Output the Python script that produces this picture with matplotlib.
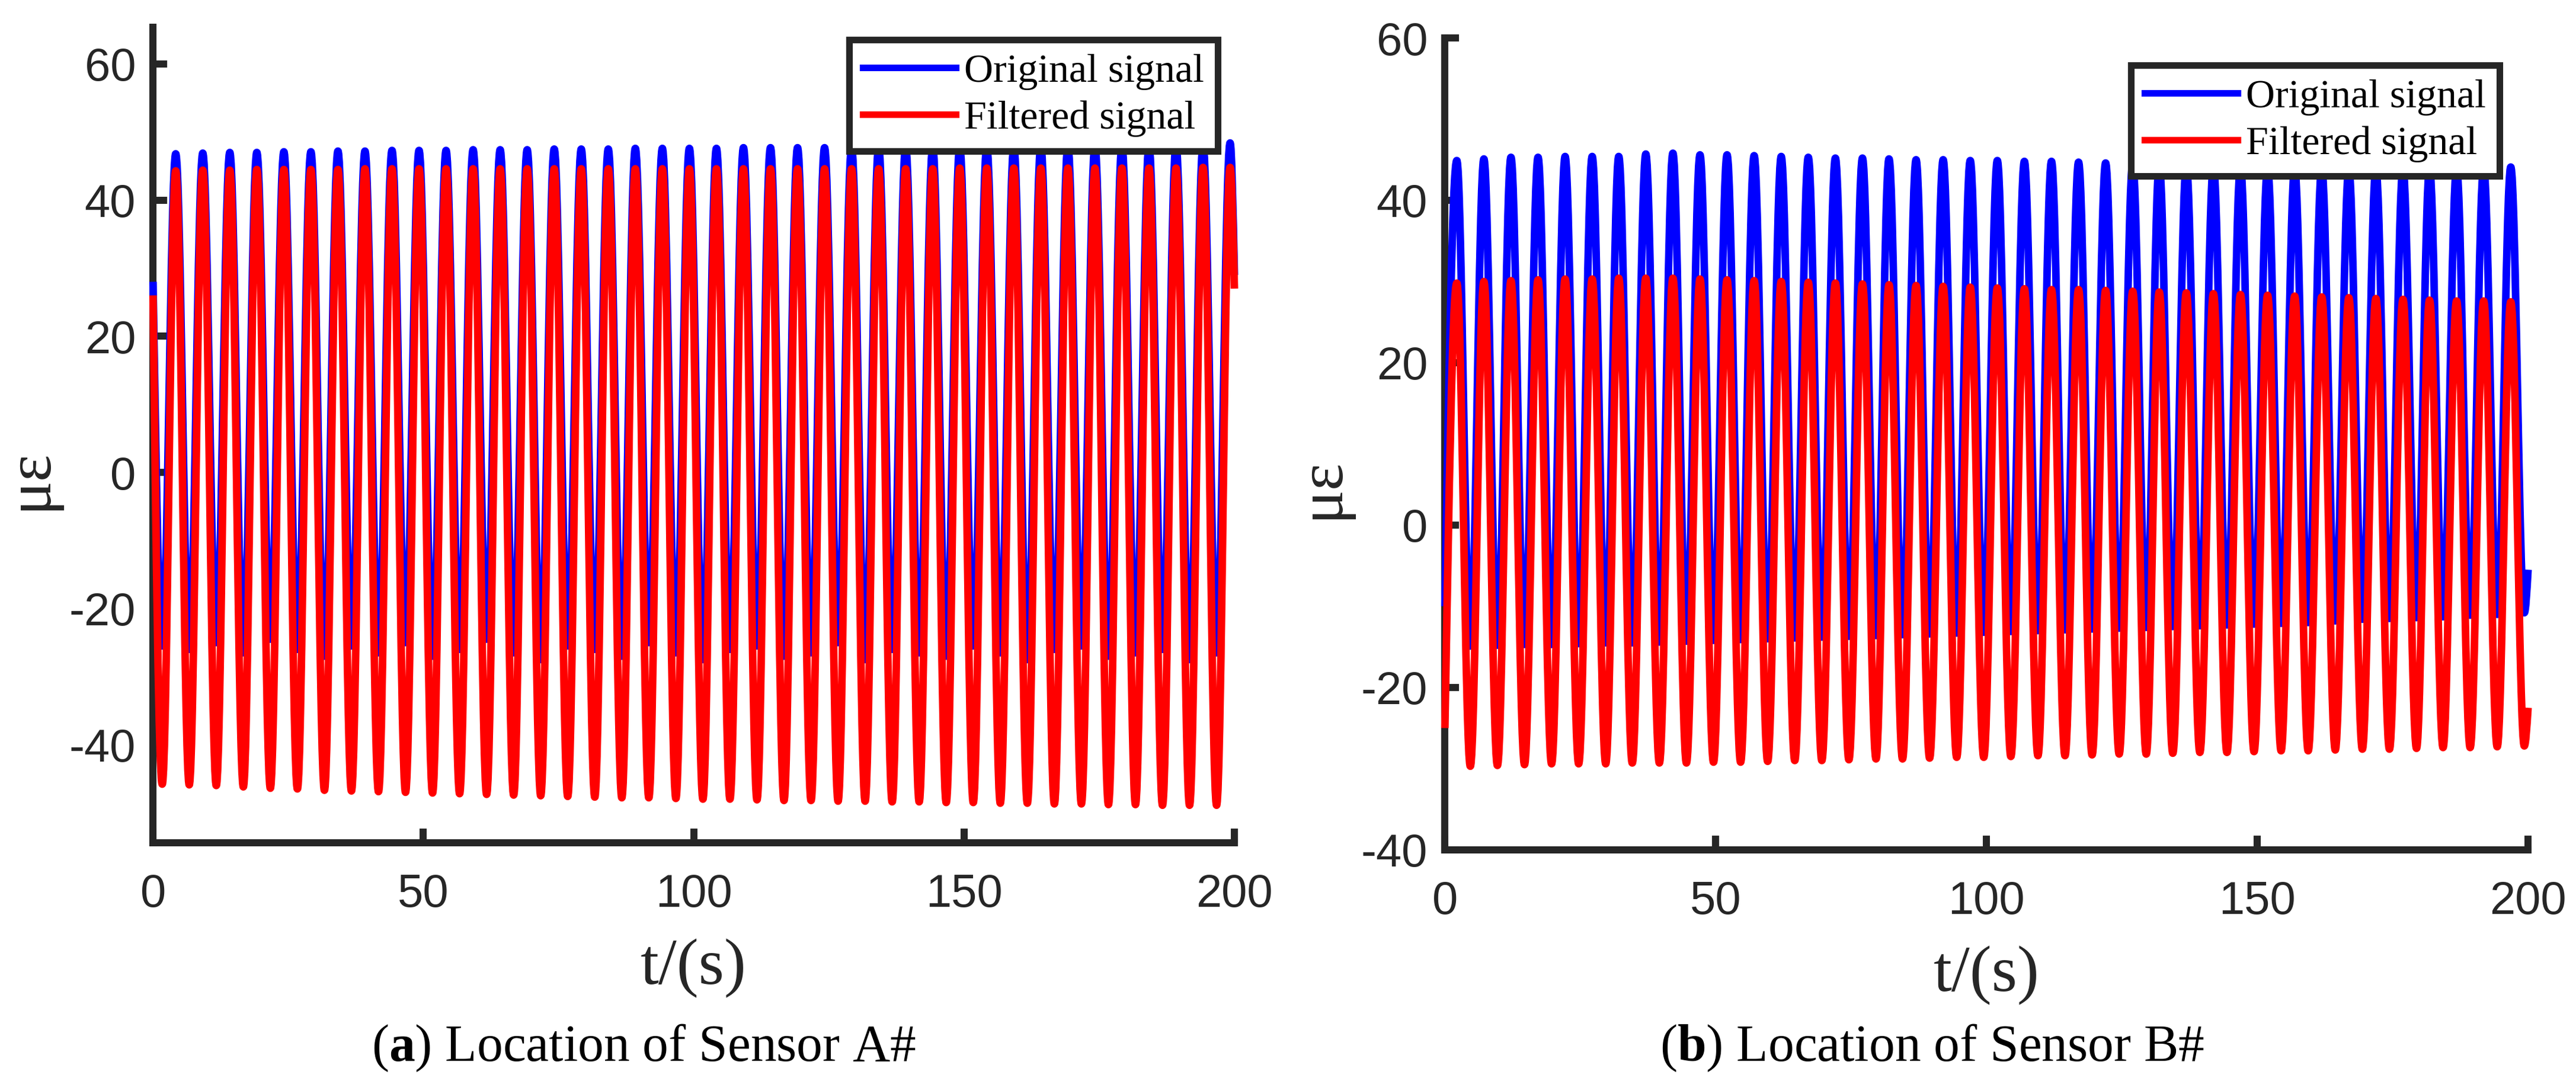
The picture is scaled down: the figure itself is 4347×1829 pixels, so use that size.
import matplotlib
matplotlib.use("Agg")
import matplotlib.pyplot as plt
from matplotlib.path import Path
from matplotlib.patches import PathPatch
from matplotlib.lines import Line2D

plt.rcParams["font.family"] = "Liberation Sans"
plt.rcParams["axes.unicode_minus"] = False
plt.rcParams["mathtext.fontset"] = "custom"
plt.rcParams["mathtext.rm"] = "Liberation Serif"
plt.rcParams["mathtext.bf"] = "Liberation Serif:bold"

# ---- sensor A#: extremes (t in s, strain in micro-strain)
a_trough_t = [1.7, 6.7, 11.7, 16.7, 21.7, 26.7, 31.7, 36.7, 41.7, 46.7,
              51.7, 56.7, 61.7, 66.7, 71.7, 76.7, 81.7, 86.7, 91.7, 96.7,
              101.7, 106.7, 111.7, 116.7, 121.7, 126.7, 131.7, 136.7, 141.7, 146.7,
              151.7, 156.7, 161.7, 166.7, 171.7, 176.7, 181.7, 186.7, 191.7, 196.7]
a_peak_t = [4.2, 9.2, 14.2, 19.2, 24.2, 29.2, 34.2, 39.2, 44.2, 49.2,
            54.2, 59.2, 64.2, 69.2, 74.2, 79.2, 84.2, 89.2, 94.2, 99.2,
            104.2, 109.2, 114.2, 119.2, 124.2, 129.2, 134.2, 139.2, 144.2, 149.2,
            154.2, 159.2, 164.2, 169.2, 174.2, 179.2, 184.2, 189.2, 194.2, 199.2]
a_orig_peaks = [46.8, 46.9, 47.0, 47.0, 47.1, 47.1, 47.2, 47.2, 47.3, 47.3,
                47.3, 47.4, 47.4, 47.4, 47.5, 47.5, 47.5, 47.6, 47.6, 47.6,
                47.6, 47.7, 47.7, 47.7, 47.7, 47.7, 47.8, 47.8, 47.8, 47.8,
                47.8, 47.8, 47.9, 47.9, 47.9, 47.9, 47.9, 48.0, 48.0, 48.4]
a_orig_troughs = [-25.5, -26.0, -25.0, -26.5, -24.5, -26.0, -27.0, -25.5, -26.5, -25.0,
                  -27.0, -26.0, -24.5, -26.5, -27.5, -25.5, -26.0, -27.0, -25.0, -26.5,
                  -27.5, -26.0, -25.5, -27.0, -26.5, -25.0, -27.5, -26.0, -26.5, -27.0,
                  -25.5, -26.5, -27.5, -26.0, -25.5, -27.0, -26.5, -26.0, -27.5, -26.5]
a_filt_peaks = [44.3, 44.4, 44.4, 44.5, 44.5, 44.5, 44.5, 44.6, 44.6, 44.6,
                44.6, 44.6, 44.6, 44.6, 44.6, 44.6, 44.6, 44.6, 44.6, 44.6,
                44.6, 44.6, 44.6, 44.6, 44.6, 44.6, 44.6, 44.6, 44.6, 44.7,
                44.7, 44.7, 44.7, 44.7, 44.7, 44.7, 44.7, 44.7, 44.8, 44.8]
a_filt_troughs = [-45.8, -45.9, -46.0, -46.2, -46.4, -46.5, -46.7, -46.8, -46.9, -47.0,
                  -47.1, -47.2, -47.3, -47.4, -47.5, -47.6, -47.7, -47.8, -47.8, -47.9,
                  -48.0, -48.0, -48.1, -48.2, -48.2, -48.3, -48.3, -48.4, -48.4, -48.5,
                  -48.5, -48.6, -48.6, -48.7, -48.7, -48.8, -48.8, -48.9, -48.9, -48.9]
a_orig_ends = [28.0, 29.0]
a_filt_ends = [26.0, 27.0]

# ---- sensor B#
b_peak_t = [2.2, 7.2, 12.2, 17.2, 22.2, 27.2, 32.1, 37.1, 42.1, 47.1,
            52.1, 57.1, 62.1, 67.1, 72.1, 77.1, 82.0, 87.0, 92.0, 97.0,
            102.0, 107.0, 112.0, 117.0, 122.0, 127.0, 131.9, 136.9, 141.9, 146.9,
            151.9, 156.9, 161.9, 166.9, 171.9, 176.9, 181.8, 186.8, 191.8, 196.8]
b_trough_t = [4.7, 9.7, 14.7, 19.7, 24.7, 29.7, 34.6, 39.6, 44.6, 49.6,
              54.6, 59.6, 64.6, 69.6, 74.6, 79.6, 84.5, 89.5, 94.5, 99.5,
              104.5, 109.5, 114.5, 119.5, 124.5, 129.5, 134.4, 139.4, 144.4, 149.4,
              154.4, 159.4, 164.4, 169.4, 174.4, 179.4, 184.3, 189.3, 194.3, 199.3]
b_orig_peaks = [44.9, 45.1, 45.3, 45.3, 45.4, 45.4, 45.4, 45.7, 45.8, 45.6,
                45.6, 45.5, 45.4, 45.3, 45.2, 45.2, 45.1, 45.0, 45.0, 44.9,
                44.9, 44.8, 44.8, 44.7, 44.6, 44.5, 44.4, 44.3, 44.2, 44.1,
                44.0, 43.9, 43.9, 43.8, 43.8, 43.8, 43.9, 43.9, 44.0, 44.1]
b_orig_troughs = [-14.9, -14.8, -14.7, -14.7, -14.6, -14.5, -14.5, -14.4, -14.3, -14.2,
                  -14.1, -14.0, -13.9, -13.8, -13.7, -13.6, -13.5, -13.4, -13.3, -13.2,
                  -13.1, -13.0, -12.9, -12.8, -12.7, -12.6, -12.5, -12.4, -12.3, -12.2,
                  -12.1, -12.0, -11.8, -11.6, -11.5, -11.4, -11.3, -11.1, -11.0, -10.8]
b_filt_peaks = [29.8, 30.0, 30.1, 30.2, 30.3, 30.3, 30.4, 30.4, 30.4, 30.3,
                30.2, 30.1, 30.0, 29.9, 29.8, 29.7, 29.6, 29.5, 29.4, 29.3,
                29.2, 29.1, 29.0, 29.0, 28.9, 28.8, 28.7, 28.6, 28.5, 28.4,
                28.3, 28.2, 28.1, 28.0, 27.9, 27.8, 27.7, 27.6, 27.6, 27.5]
b_filt_troughs = [-29.7, -29.6, -29.5, -29.4, -29.4, -29.4, -29.3, -29.3, -29.3, -29.2,
                  -29.2, -29.1, -29.0, -29.0, -28.9, -28.8, -28.8, -28.7, -28.6, -28.6,
                  -28.5, -28.4, -28.4, -28.3, -28.2, -28.2, -28.1, -28.0, -28.0, -27.9,
                  -27.8, -27.8, -27.7, -27.6, -27.6, -27.5, -27.4, -27.4, -27.3, -27.2]
b_orig_ends = [-10.0, -5.5]
b_filt_ends = [-25.0, -22.5]

t_ends = [0, 200]
labels = ["Original signal", "Filtered signal"]
captions = [r"($\mathbf{a}$) Location of Sensor A#", r"($\mathbf{b}$) Location of Sensor B#"]

AXIS = "#262626"
BLUE = "#0000ff"
RED = "#ff0000"
LW = 9.2


def interleave(first, second):
    out = []
    for a, b in zip(first, second):
        out += [a, b]
    return out


def wave_path(ext_t, ext_y, ends):
    # smooth curve through the extremes, flat tangent at every extreme
    k = 0.3634
    pts = [(t_ends[0], ends[0])] + list(zip(ext_t, ext_y)) + [(t_ends[1], ends[1])]
    verts = [pts[0]]
    codes = [Path.MOVETO]
    n = len(pts)
    for i in range(n - 1):
        (t0, y0), (t1, y1) = pts[i], pts[i + 1]
        dt = t1 - t0
        c1 = (t0 + dt / 3, y0 + (y1 - y0) / 2) if i == 0 else (t0 + k * dt, y0)
        c2 = (t1 - dt / 3, y1 - (y1 - y0) / 2) if i == n - 2 else (t1 - k * dt, y1)
        verts += [c1, c2, (t1, y1)]
        codes += [Path.CURVE4] * 3
    return Path(verts, codes)


def draw(ax, ext_t, ext_y, ends, color):
    patch = PathPatch(wave_path(ext_t, ext_y, ends), fill=False, edgecolor=color,
                      lw=LW, capstyle="butt", joinstyle="round", zorder=3, clip_on=False)
    ax.add_patch(patch)


fig = plt.figure(figsize=(43.47, 18.29), dpi=100)
ax_a = fig.add_axes([0.0594, 0.2226, 0.4198, 0.7523])
ax_b = fig.add_axes([0.5609, 0.2160, 0.4205, 0.7490])

# panel A: first extreme is a trough
draw(ax_a, interleave(a_trough_t, a_peak_t), interleave(a_orig_troughs, a_orig_peaks), a_orig_ends, BLUE)
draw(ax_a, interleave(a_trough_t, a_peak_t), interleave(a_filt_troughs, a_filt_peaks), a_filt_ends, RED)
# panel B: first extreme is a peak
draw(ax_b, interleave(b_peak_t, b_trough_t), interleave(b_orig_peaks, b_orig_troughs), b_orig_ends, BLUE)
draw(ax_b, interleave(b_peak_t, b_trough_t), interleave(b_filt_peaks, b_filt_troughs), b_filt_ends, RED)

ax_a.set_ylim(-54.4, 65.4)
ax_b.set_ylim(-40, 60)
legend_pos = [(0.4728, 0.9636), (0.9704, 0.9401)]
caption_x = [0.25, 0.75]

for ax, cap, cx, lpos in zip((ax_a, ax_b), captions, caption_x, legend_pos):
    ax.set_xlim(0, 200)
    ax.set_xticks([0, 50, 100, 150, 200])
    ax.set_yticks([-40, -20, 0, 20, 40, 60])
    ax.spines[["top", "right"]].set_visible(False)
    for s in ("left", "bottom"):
        ax.spines[s].set_linewidth(8.6)
        ax.spines[s].set_color(AXIS)
    ax.tick_params(direction="in", length=17, width=8.6, color=AXIS,
                   labelcolor=AXIS, labelsize=56)
    ax.tick_params(axis="x", pad=37)
    ax.tick_params(axis="y", pad=21)
    ax.set_xlabel("t/(s)", family="Liberation Serif", fontsize=80, color=AXIS)
    ax.xaxis.set_label_coords(0.5, -0.118)
    ax.set_ylabel("με", family="Liberation Serif", fontsize=78, color=AXIS)
    ax.yaxis.set_label_coords(-0.0865, 0.445)

    handles = [Line2D([], [], color=BLUE, lw=8), Line2D([], [], color=RED, lw=8)]
    leg = ax.legend(handles, labels, loc="upper right", bbox_to_anchor=lpos,
                    bbox_transform=fig.transFigure, borderaxespad=0,
                    prop={"family": "Liberation Serif", "size": 49},
                    handlelength=2.3, handletextpad=0.2, borderpad=0.35,
                    labelspacing=0.25, fancybox=False, framealpha=1)
    leg.get_frame().set_edgecolor(AXIS)
    leg.get_frame().set_linewidth(8)

    fig.text(cx, 0.0213, cap, ha="center", va="baseline",
             family="Liberation Serif", fontsize=63, color="black")

fig.savefig("out.png", dpi=100)
